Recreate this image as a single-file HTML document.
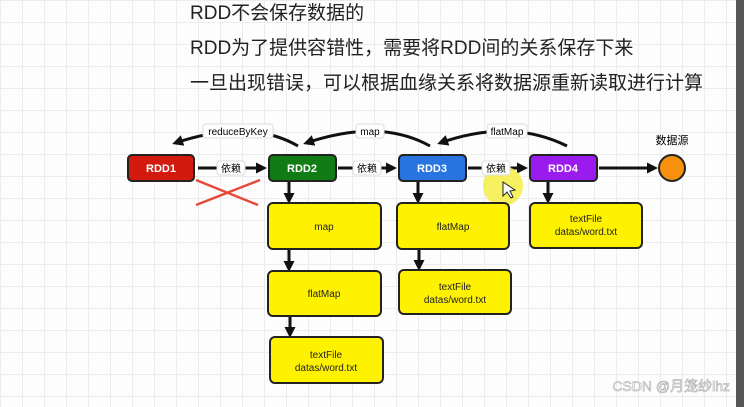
<!DOCTYPE html>
<html><head><meta charset="utf-8"><style>
body{margin:0;width:744px;height:407px;overflow:hidden;background:#fff;font-family:"Liberation Sans","Noto Sans CJK SC",sans-serif;}
.bg{position:absolute;left:0;top:0;width:736px;height:407px;background-color:#fdfdfd;background-image:linear-gradient(#ececec 1px,transparent 1px),linear-gradient(90deg,#ececec 1px,transparent 1px);background-size:22px 22px;}
.edge{position:absolute;left:736px;top:0;width:8px;height:407px;background:#555;}
.t{position:absolute;left:190px;font-size:19px;color:#222;white-space:nowrap;}
</style></head><body>
<div class="bg"></div><div class="edge"></div>
<div class="t" style="top:-2px">RDD不会保存数据的</div>
<div class="t" style="top:33px">RDD为了提供容错性，需要将RDD间的关系保存下来</div>
<div class="t" style="top:68px">一旦出现错误，可以根据血缘关系将数据源重新读取进行计算</div>
<svg width="744" height="407" style="position:absolute;left:0;top:0" font-family="Liberation Sans, Noto Sans CJK SC, sans-serif">
<defs><marker id="a" markerWidth="11" markerHeight="11" refX="8" refY="5.5" orient="auto" markerUnits="userSpaceOnUse"><path d="M0,0L11,5.5L0,11z" fill="#111"/></marker></defs>
<g stroke="#111" stroke-width="3" fill="none" marker-end="url(#a)">
<path d="M198,168H264"/><path d="M338,168H394"/><path d="M468,168H525"/><path d="M599,168H655"/>
<path d="M298,146Q250,118 175,143"/><path d="M430,146Q380,118 306,143"/><path d="M567,146Q510,118 440,143"/>
<path d="M289,182V201"/><path d="M418,182V201"/><path d="M548,182V201"/>
<path d="M289,250V269"/><path d="M290,317V335"/><path d="M419,250V268"/>
</g>
<g stroke="#e84a3a" stroke-width="2.5"><path d="M196,180L258,205"/><path d="M196,205L260,180"/></g>
<g font-size="10" text-anchor="middle">
<rect x="203" y="124" width="70" height="14" rx="3" fill="#fff" stroke="#ddd"/><text x="238" y="135">reduceByKey</text>
<rect x="356" y="124" width="28" height="14" rx="3" fill="#fff" stroke="#ddd"/><text x="370" y="135">map</text>
<rect x="487" y="124" width="40" height="14" rx="3" fill="#fff" stroke="#ddd"/><text x="507" y="135">flatMap</text>
<rect x="217" y="161" width="28" height="14" rx="3" fill="#fff" stroke="#ddd"/><text x="231" y="172">依赖</text>
<rect x="353" y="161" width="28" height="14" rx="3" fill="#fff" stroke="#ddd"/><text x="367" y="172">依赖</text>
<circle cx="503" cy="186" r="20" fill="#f5ee3a" opacity="0.8"/>
<rect x="482" y="161" width="28" height="14" rx="3" fill="#fff" stroke="#ddd"/><text x="496" y="172">依赖</text>
<text x="672" y="144" font-size="11">数据源</text>
</g>
<circle cx="672" cy="168" r="13" fill="#f7900c" stroke="#222" stroke-width="2"/>
<g stroke="#222" stroke-width="2" font-size="11" font-weight="bold" fill="#fff" text-anchor="middle">
<rect x="128" y="155" width="66" height="26" rx="4" fill="#d21a0e"/>
<rect x="269" y="155" width="67" height="26" rx="4" fill="#0f7d14"/>
<rect x="399" y="155" width="67" height="26" rx="4" fill="#2874e0"/>
<rect x="530" y="155" width="67" height="26" rx="4" fill="#9b1bef"/>
</g>
<g font-size="11" font-weight="bold" fill="#fff" text-anchor="middle">
<text x="161" y="172">RDD1</text><text x="302" y="172">RDD2</text><text x="432" y="172">RDD3</text><text x="563" y="172">RDD4</text>
</g>
<g stroke="#222" stroke-width="2" fill="#fff200">
<rect x="268" y="203" width="113" height="46" rx="5"/>
<rect x="268" y="271" width="113" height="45" rx="5"/>
<rect x="270" y="337" width="113" height="46" rx="5"/>
<rect x="397" y="203" width="112" height="46" rx="5"/>
<rect x="399" y="270" width="112" height="44" rx="5"/>
<rect x="530" y="203" width="112" height="45" rx="5"/>
</g>
<g font-size="10" fill="#222" text-anchor="middle">
<text x="324" y="230">map</text><text x="324" y="297">flatMap</text>
<text x="326" y="358">textFile</text><text x="326" y="371">datas/word.txt</text>
<text x="453" y="230">flatMap</text>
<text x="455" y="290">textFile</text><text x="455" y="303">datas/word.txt</text>
<text x="586" y="222">textFile</text><text x="586" y="235">datas/word.txt</text>
</g>
<path d="M503,182L503,196L507,192L511,198L513,197L510,191L515,190Z" fill="#fff" stroke="#222" stroke-width="1"/>
<text x="730" y="391" font-size="14" fill="#fff" text-anchor="end" stroke="#999" stroke-width="0.5">CSDN @月笼纱lhz</text>
</svg>
</body></html>
